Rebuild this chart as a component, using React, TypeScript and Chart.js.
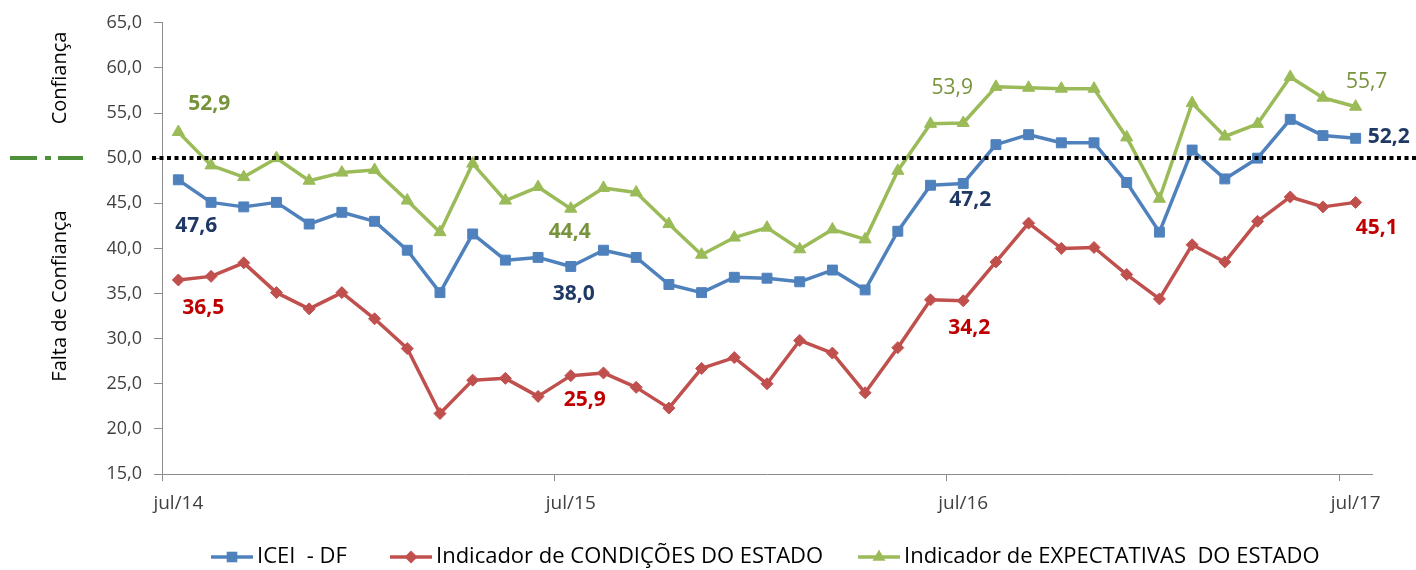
import React, { useEffect, useRef } from 'react';
import { Chart, registerables } from 'chart.js';

Chart.register(...registerables);

// ---------- DATA ----------
const months = [
  'jul/14', 'ago/14', 'set/14', 'out/14', 'nov/14', 'dez/14',
  'jan/15', 'fev/15', 'mar/15', 'abr/15', 'mai/15', 'jun/15',
  'jul/15', 'ago/15', 'set/15', 'out/15', 'nov/15', 'dez/15',
  'jan/16', 'fev/16', 'mar/16', 'abr/16', 'mai/16', 'jun/16',
  'jul/16', 'ago/16', 'set/16', 'out/16', 'nov/16', 'dez/16',
  'jan/17', 'fev/17', 'mar/17', 'abr/17', 'mai/17', 'jun/17',
  'jul/17',
];

const iceiDF = [
  47.6, 45.1, 44.6, 45.1, 42.7, 44.0, 43.0, 39.8, 35.1, 41.6, 38.7, 39.0,
  38.0, 39.8, 39.0, 36.0, 35.1, 36.8, 36.7, 36.3, 37.6, 35.4, 41.9, 47.0,
  47.2, 51.5, 52.6, 51.7, 51.7, 47.3, 41.8, 50.9, 47.7, 50.0, 54.3, 52.5,
  52.2,
];

const condicoes = [
  36.5, 36.9, 38.4, 35.1, 33.3, 35.1, 32.2, 28.9, 21.7, 25.4, 25.6, 23.6,
  25.9, 26.2, 24.6, 22.3, 26.7, 27.9, 25.0, 29.8, 28.4, 24.0, 29.0, 34.3,
  34.2, 38.5, 42.8, 40.0, 40.1, 37.1, 34.4, 40.4, 38.5, 43.0, 45.7, 44.6,
  45.1,
];

const expectativas = [
  52.9, 49.2, 47.9, 50.0, 47.5, 48.4, 48.7, 45.3, 41.8, 49.4, 45.3, 46.8,
  44.4, 46.7, 46.2, 42.7, 39.3, 41.2, 42.3, 39.9, 42.1, 41.0, 48.6, 53.8,
  53.9, 57.9, 57.8, 57.7, 57.7, 52.3, 45.5, 56.1, 52.4, 53.8, 59.0, 56.7,
  55.7,
];

const seriesNames = [
  'ICEI  - DF',
  'Indicador de CONDIÇÕES DO ESTADO',
  'Indicador de EXPECTATIVAS  DO ESTADO',
];

const labeledMonths = ['jul/14', 'jul/15', 'jul/16', 'jul/17'];
const yMin = 15;
const yMax = 65;
const yStep = 5;
const referenceLevel = 50;
const yTitleTop = 'Confiança';
const yTitleBottom = 'Falta de Confiança';

// ---------- STYLES ----------
const FONT = '"Open Sans", "DejaVu Sans", sans-serif';
const styles = [
  { color: '#4F81BD', labelColor: '#1F3864', pointStyle: 'rect', radius: 7, legendX: 211,
    // [dx, dy, bold] for each labeled month
    offsets: [[18, 46, true], [3, 28, true], [7, 17, true], [33, -1, true]] },
  { color: '#C0504D', labelColor: '#C00000', pointStyle: 'rectRot', radius: 6, legendX: 390,
    offsets: [[25, 28, true], [14, 24, true], [6, 27, true], [21, 26, true]] },
  { color: '#9BBB59', labelColor: '#77933C', pointStyle: 'triangle', radius: 7, legendX: 858,
    offsets: [[31, -28, true], [-1, 23, true], [-11, -35, false], [11, -25, false]] },
];
const seriesData = [iceiDF, condicoes, expectativas];

const fmt = (v: number) => v.toFixed(1).replace('.', ',');

function drawMarker(c: CanvasRenderingContext2D, style: string, x: number, y: number, r: number, color: string) {
  c.save();
  c.fillStyle = color;
  c.beginPath();
  if (style === 'rect') {
    const s = r * Math.SQRT1_2;
    c.rect(x - s, y - s, 2 * s, 2 * s);
  } else if (style === 'rectRot') {
    c.moveTo(x, y - r);
    c.lineTo(x + r, y);
    c.lineTo(x, y + r);
    c.lineTo(x - r, y);
    c.closePath();
  } else {
    for (let k = 0; k < 3; k++) {
      const a = (k * 2 * Math.PI) / 3;
      const px = x + Math.sin(a) * r;
      const py = y - Math.cos(a) * r;
      if (k === 0) c.moveTo(px, py); else c.lineTo(px, py);
    }
    c.closePath();
  }
  c.fill();
  c.restore();
}

const decorPlugin = {
  id: 'decor',
  afterDatasetsDraw(chart: any) {
    const c: CanvasRenderingContext2D = chart.ctx;
    const yScale = chart.scales.y;
    const yRef = Math.round(yScale.getPixelForValue(referenceLevel));

    // dotted reference line
    c.save();
    c.strokeStyle = '#000';
    c.lineWidth = 4;
    c.setLineDash([4, 3.5]);
    c.beginPath();
    c.moveTo(152, yRef);
    c.lineTo(chart.width, yRef);
    c.stroke();
    c.restore();

    // dash-dot marker at the left
    c.save();
    c.strokeStyle = '#4E8F3A';
    c.lineWidth = 4;
    c.beginPath();
    c.moveTo(10, yRef); c.lineTo(37, yRef);
    c.moveTo(45, yRef); c.lineTo(51, yRef);
    c.moveTo(58, yRef); c.lineTo(83, yRef);
    c.stroke();
    c.restore();

    // y titles
    const drawVertical = (text: string, x: number, y: number) => {
      c.save();
      c.fillStyle = '#000';
      c.font = `20px ${FONT}`;
      c.textAlign = 'center';
      c.textBaseline = 'middle';
      c.translate(x, y);
      c.rotate(-Math.PI / 2);
      c.fillText(text, 0, 0);
      c.restore();
    };
    drawVertical(yTitleTop, 60, 78);
    drawVertical(yTitleBottom, 60, 296);

    // value labels
    styles.forEach((s, di) => {
      const meta = chart.getDatasetMeta(di);
      labeledMonths.forEach((m, k) => {
        const idx = months.indexOf(m);
        const pt = meta.data[idx];
        if (!pt) return;
        const v = seriesData[di][idx];
        const [dx, dy, bold] = s.offsets[k] as [number, number, boolean];
        c.save();
        c.font = `${bold ? 'bold ' : ''}21px ${FONT}`;
        c.fillStyle = s.labelColor;
        c.textAlign = 'center';
        c.textBaseline = 'middle';
        c.fillText(fmt(v), pt.x + dx, pt.y + dy);
        c.restore();
      });
    });

    // legend
    const ly = 557;
    styles.forEach((s, di) => {
      const x0 = s.legendX;
      c.save();
      c.strokeStyle = s.color;
      c.lineWidth = 3.5;
      c.beginPath();
      c.moveTo(x0, ly);
      c.lineTo(x0 + 42, ly);
      c.stroke();
      c.restore();
      drawMarker(c, s.pointStyle, x0 + 21, ly, s.radius + 0.5, s.color);
      c.save();
      c.fillStyle = '#000';
      c.font = `22px ${FONT}`;
      c.textAlign = 'left';
      c.textBaseline = 'middle';
      c.fillText(seriesNames[di], x0 + 46, ly);
      c.restore();
    });
  },
};

export default function App() {
  const ref = useRef<HTMLCanvasElement>(null);
  useEffect(() => {
    document.body.style.margin = '0';
    const canvas = ref.current!;
    const chart = new Chart(canvas, {
      type: 'line',
      data: {
        labels: months,
        datasets: seriesData.map((d, i) => ({
          label: seriesNames[i],
          data: d,
          borderColor: styles[i].color,
          backgroundColor: styles[i].color,
          borderWidth: 3.5,
          borderJoinStyle: 'round' as const,
          pointStyle: styles[i].pointStyle as any,
          pointRadius: styles[i].radius,
          pointBorderWidth: 1,
          pointBackgroundColor: styles[i].color,
          pointBorderColor: styles[i].color,
          tension: 0,
          order: 2 - i,
        })),
      },
      options: {
        responsive: false,
        animation: false,
        devicePixelRatio: 1,
        layout: { padding: { top: 22, right: 44, bottom: 56, left: 0 } },
        plugins: {
          legend: { display: false },
          tooltip: { enabled: false },
        },
        scales: {
          x: {
            type: 'category',
            offset: true,
            afterFit: (s: any) => { s.height = 40; },
            grid: {
              offset: true,
              drawOnChartArea: false,
              drawTicks: true,
              tickLength: 7,
              color: (ctx: any) => (ctx.tick && ctx.tick.label ? '#8C8C8C' : 'rgba(0,0,0,0)'),
            },
            border: { display: true, color: '#8C8C8C', width: 1 },
            ticks: {
              autoSkip: false,
              maxRotation: 0,
              minRotation: 0,
              padding: 11,
              color: '#404040',
              font: { family: FONT, size: 19 },
              callback: (_v: any, i: number) => (labeledMonths.includes(months[i]) ? months[i] : ''),
            },
          },
          y: {
            min: yMin,
            max: yMax,
            afterFit: (s: any) => { s.width = 162; },
            grid: {
              drawOnChartArea: false,
              drawTicks: true,
              tickLength: 8,
              color: '#8C8C8C',
            },
            border: { display: true, color: '#8C8C8C', width: 1 },
            ticks: {
              stepSize: yStep,
              padding: 12,
              color: '#404040',
              font: { family: FONT, size: 18 },
              callback: (v: any) => fmt(Number(v)),
            },
          },
        },
      },
      plugins: [decorPlugin],
    });
    return () => chart.destroy();
  }, []);
  return (
    <div style={{ width: 1416, height: 570 }}>
      <canvas ref={ref} width={1416} height={570} style={{ display: 'block' }} />
    </div>
  );
}
